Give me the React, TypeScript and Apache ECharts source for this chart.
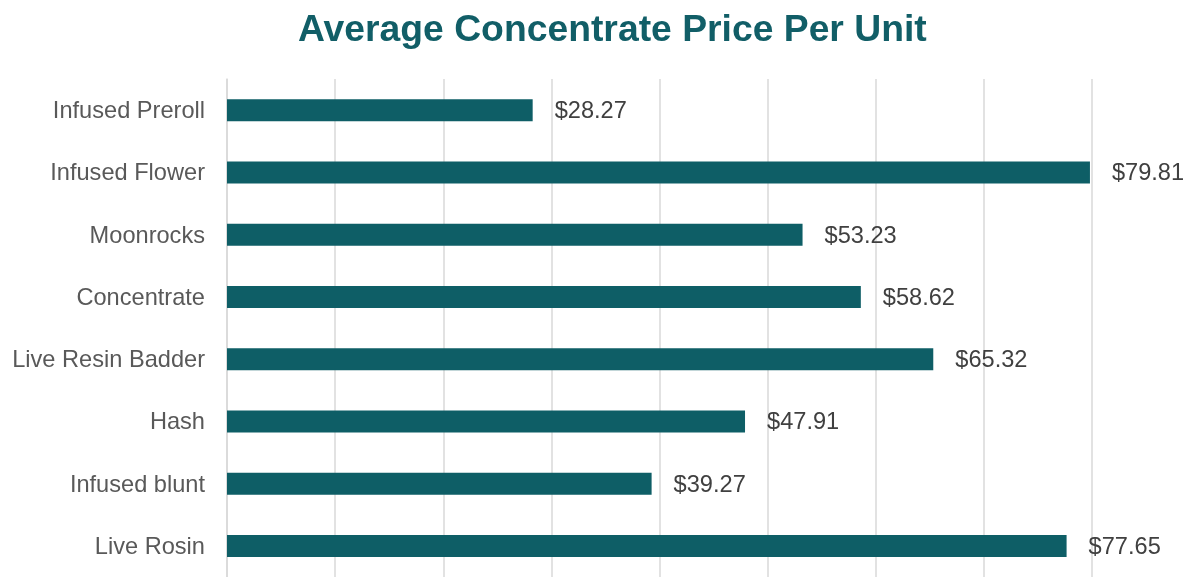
import React, { useEffect, useRef } from "react";
import * as echarts from "echarts";

const categories = [
  "Infused Preroll",
  "Infused Flower",
  "Moonrocks",
  "Concentrate",
  "Live Resin Badder",
  "Hash",
  "Infused blunt",
  "Live Rosin",
];
const values = [28.27, 79.81, 53.23, 58.62, 65.32, 47.91, 39.27, 77.65];

const FONT = "'Liberation Sans', Arial, Helvetica, sans-serif";

export default function App() {
  const ref = useRef<HTMLDivElement>(null);
  useEffect(() => {
    document.body.style.margin = "0";
    const chart = echarts.init(ref.current!, null, { renderer: "svg" });
    chart.setOption({
      animation: false,
      title: {
        text: "Average Concentrate Price Per Unit",
        left: 293,
        top: 4,
        textStyle: {
          fontFamily: FONT,
          fontSize: 37.3,
          fontWeight: "bold",
          color: "#115E67",
        },
      },
      grid: { left: 227, top: 79, width: 865, height: 502, containLabel: false },
      xAxis: {
        type: "value",
        min: 0,
        max: 80,
        interval: 10,
        axisLabel: { show: false },
        axisLine: { show: false },
        axisTick: { show: false },
        splitLine: { show: true, lineStyle: { color: "#D9D9D9", width: 1.5 } },
      },
      yAxis: {
        type: "category",
        inverse: true,
        data: categories,
        axisLine: { show: true, lineStyle: { color: "#D9D9D9", width: 1.5 } },
        axisTick: { show: false },
        axisLabel: {
          fontFamily: FONT,
          fontSize: 23.6,
          color: "#595959",
          margin: 22,
        },
      },
      series: [
        {
          type: "bar",
          data: values,
          barWidth: 22,
          itemStyle: { color: "#0E5E66" },
          label: {
            show: true,
            position: "right",
            distance: 22,
            fontFamily: FONT,
            fontSize: 23.6,
            color: "#404040",
            formatter: (p: any) => "$" + p.value.toFixed(2),
          },
        },
      ],
    });
    return () => chart.dispose();
  }, []);
  return (
    <div
      ref={ref}
      style={{ position: "fixed", left: 0, top: 0, width: 1198, height: 577 }}
    />
  );
}
